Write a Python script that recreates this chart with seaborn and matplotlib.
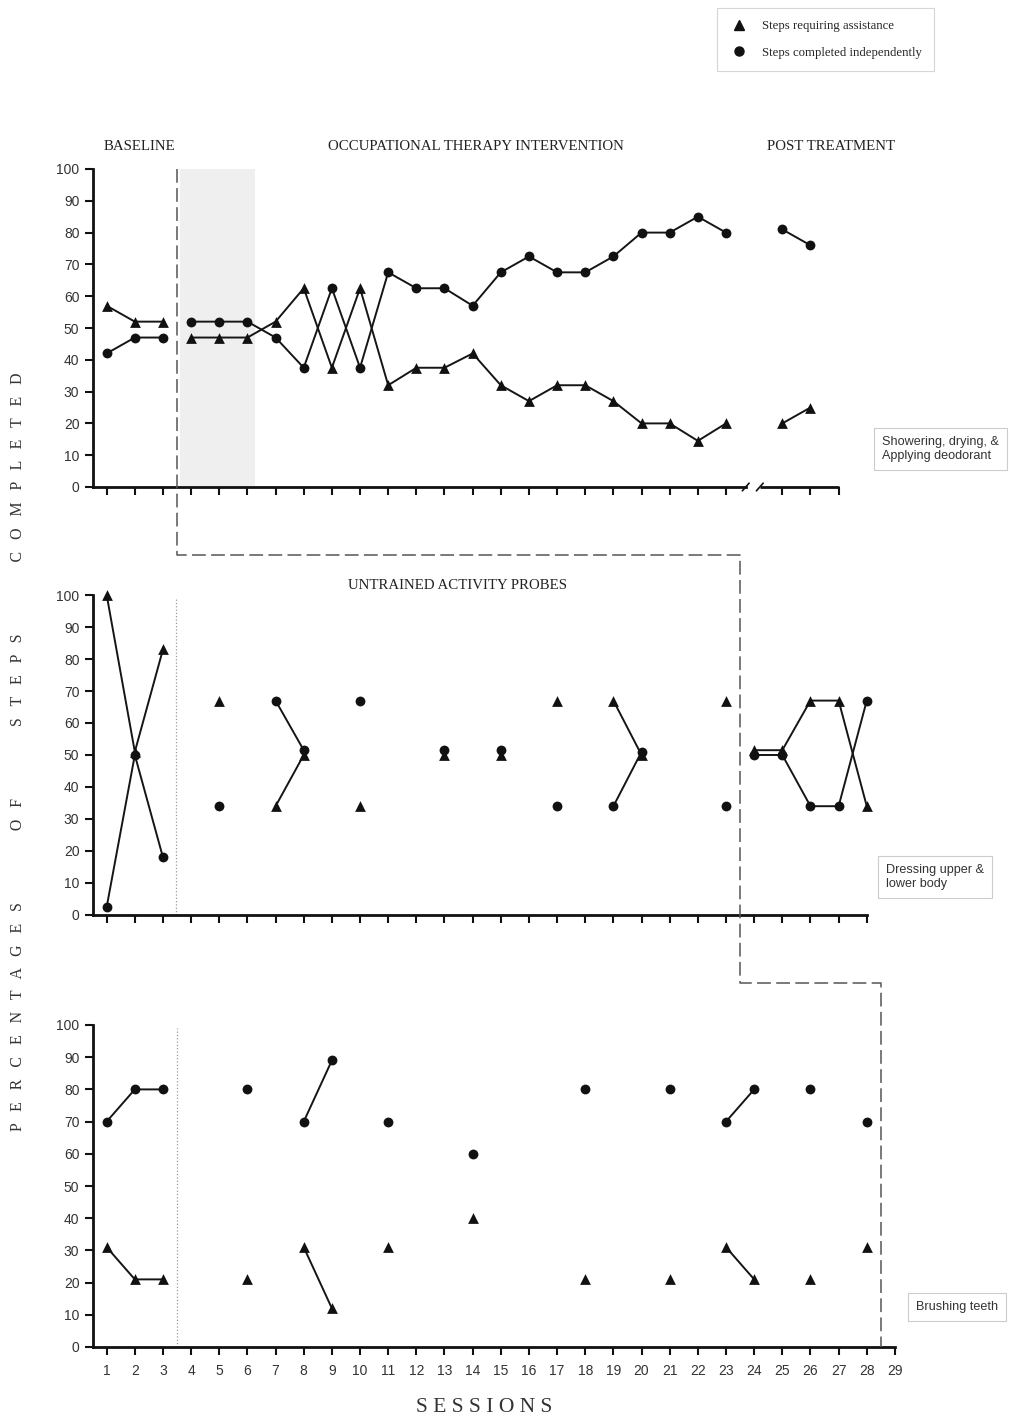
import numpy as np
import pandas as pd
import matplotlib
matplotlib.use("Agg")
import matplotlib.pyplot as plt
from matplotlib.lines import Line2D
import seaborn as sns

# ---- data ----
top_sessions = [1, 2, 3, 4, 5, 6, 7, 8, 9, 10, 11, 12, 13, 14, 15, 16, 17, 18, 19, 20, 21, 22, 23, 25, 26]
top_assist = [57, 52, 52, 47, 47, 47, 52, 62.5, 37.5, 62.5, 32, 37.5, 37.5, 42, 32, 27, 32, 32, 27, 20, 20, 14.5, 20, 20, 25]
top_indep = [42, 47, 47, 52, 52, 52, 47, 37.5, 62.5, 37.5, 67.5, 62.5, 62.5, 57, 67.5, 72.5, 67.5, 67.5, 72.5, 80, 80, 85, 80, 81, 76]

mid_sessions = [1, 2, 3, 5, 7, 8, 10, 13, 15, 17, 19, 20, 23, 24, 25, 26, 27, 28]
mid_assist = [100, 51, 83, 67, 34, 50, 34, 50, 50, 67, 67, 50, 67, 51.5, 51.5, 67, 67, 34]
mid_indep = [2.5, 50, 18, 34, 67, 51.5, 67, 51.5, 51.5, 34, 34, 51, 34, 50, 50, 34, 34, 67]

bot_sessions = [1, 2, 3, 6, 8, 9, 11, 14, 18, 21, 23, 24, 26, 28]
bot_assist = [31, 21, 21, 21, 31, 12, 31, 40, 21, 21, 31, 21, 21, 31]
bot_indep = [70, 80, 80, 80, 70, 89, 70, 60, 80, 80, 70, 80, 80, 70]

# phase change positions (lines are not joined across them)
top_breaks = [3.5]
mid_breaks = [3.5, 23.5]
bot_breaks = [3.5, 28.5]

panel_names = ["Showering, drying, &\nApplying deodorant", "Dressing upper &\nlower body", "Brushing teeth"]
y_ticks = list(range(0, 101, 10))

sns.set_style("ticks")
plt.rcParams['font.family'] = ['Liberation Sans', 'DejaVu Sans']
SERIF = ['Liberation Serif', 'DejaVu Serif']

W, H = 1012, 1421
fig = plt.figure(figsize=(W / 100, H / 100), dpi=100)
fig.patch.set_facecolor('white')

left = 92.6 / W
width = 816.4 / W
ax_top = fig.add_axes([left, 1 - 487 / H, width, 318 / H])
ax_mid = fig.add_axes([left, 1 - 915 / H, width, 320 / H])
ax_bot = fig.add_axes([left, 1 - 1347 / H, width, 322 / H])


def draw_series(ax, sess, vals, breaks, marker, size):
    df = pd.DataFrame({'session': sess, 'value': vals})
    df['phase'] = np.searchsorted(breaks, df['session'])
    df['run'] = ((df['session'].diff() != 1) | (df['phase'].diff() != 0)).cumsum()
    for _, g in df.groupby('run'):
        if len(g) > 1:
            sns.lineplot(data=g, x='session', y='value', ax=ax, color='#151515',
                         linewidth=1.4, legend=False, errorbar=None)
    sns.scatterplot(data=df, x='session', y='value', ax=ax, marker=marker, s=size,
                    color='#111111', linewidth=0, zorder=4, clip_on=False, legend=False)


def style_axis(ax, xticks, xend, labels=False):
    ax.set_xlim(0.5, 29.5)
    ax.set_ylim(0, 100)
    sns.despine(ax=ax)
    for side in ['left', 'bottom']:
        ax.spines[side].set_linewidth(2)
        ax.spines[side].set_color('#111111')
    ax.spines['bottom'].set_bounds(0.5, xend)
    ax.set_xticks(xticks)
    ax.set_yticks(y_ticks)
    ax.tick_params(axis='both', direction='out', length=6, width=1.5, color='#111111',
                   labelsize=10, labelcolor='#333333')
    if not labels:
        ax.set_xticklabels([])
    ax.set_xlabel('')
    ax.set_ylabel('')
    ax.patch.set_alpha(0)


# ---- top panel ----
ax_top.axvspan(3.6, 6.27, ymax=1, color='#efefef', zorder=0, lw=0)
draw_series(ax_top, top_sessions, top_assist, top_breaks, '^', 60)
draw_series(ax_top, top_sessions, top_indep, top_breaks, 'o', 50)
style_axis(ax_top, list(range(1, 24)) + [25, 26, 27], 23.7)
ax_top.plot([24.2, 27], [0, 0], color='#111111', lw=2, clip_on=False, solid_capstyle='butt')
for bx in (23.7, 24.2):
    ax_top.plot([bx - 0.12, bx + 0.12], [-1.2, 1.2], color='#111111', lw=1.2, clip_on=False)
title_kw = dict(family=SERIF, fontsize=10.7, ha='center', va='center', color='#222')
ax_top.text(2.18, 107, 'BASELINE', **title_kw)
ax_top.text(14.12, 107, 'OCCUPATIONAL THERAPY INTERVENTION', **title_kw)
ax_top.text(26.73, 107, 'POST TREATMENT', **title_kw)

# ---- middle panel ----
ax_mid.axvline(3.45, ymin=0, ymax=0.99, color='#999999', lw=0.9, ls=':')
draw_series(ax_mid, mid_sessions, mid_assist, mid_breaks, '^', 60)
draw_series(ax_mid, mid_sessions, mid_indep, mid_breaks, 'o', 50)
style_axis(ax_mid, list(range(1, 29)), 28)
ax_mid.text(13.45, 103, 'UNTRAINED ACTIVITY PROBES', **title_kw)

# ---- bottom panel ----
ax_bot.axvline(3.5, ymin=0, ymax=0.99, color='#999999', lw=0.9, ls=':')
draw_series(ax_bot, bot_sessions, bot_assist, bot_breaks, '^', 60)
draw_series(ax_bot, bot_sessions, bot_indep, bot_breaks, 'o', 50)
style_axis(ax_bot, list(range(1, 30)), 29, labels=True)
ax_bot.tick_params(axis='x', pad=6)

# ---- phase change dashed line across panels ----
inv = fig.transFigure.inverted()


def fxy(ax, x, y):
    return inv.transform(ax.transData.transform((x, y)))


p0 = fxy(ax_top, 3.5, 100)
x235 = fxy(ax_mid, 23.5, 0)[0]
x285 = fxy(ax_bot, 28.5, 0)[0]
p5 = fxy(ax_bot, 28.5, 0)
g1 = 1 - 555 / H
g2 = 1 - 983 / H
xs = [p0[0], p0[0], x235, x235, x285, x285]
ys = [p0[1], g1, g1, g2, g2, p5[1]]
fig.add_artist(Line2D(xs, ys, transform=fig.transFigure, color='#555555', lw=1.1,
                      ls=(0, (9, 3.5))))

# ---- panel name boxes ----
box = dict(boxstyle='square,pad=0.65', facecolor='white', edgecolor='#cccccc', lw=0.8)
fig.text(882 / W, 1 - 449 / H, panel_names[0], fontsize=9.1, color='#333', va='center', ha='left',
         bbox=box, linespacing=1.25)
fig.text(886 / W, 1 - 877 / H, panel_names[1], fontsize=9.1, color='#333', va='center', ha='left',
         bbox=box, linespacing=1.25)
fig.text(916 / W, 1 - 1307 / H, panel_names[2], fontsize=9.1, color='#333', va='center', ha='left',
         bbox=box)

# ---- axis titles ----
ylab = '      '.join(' '.join(w) for w in ['PERCENTAGES', 'OF', 'STEPS', 'COMPLETED'])
ylab = ylab.replace(' ', '   ')
fig.text(18 / W, 1 - 752 / H, ylab, family=SERIF, fontsize=11.4, rotation=90,
         ha='center', va='center', color='#333')
fig.text(484 / W, 1 - 1407 / H, ' '.join('SESSIONS'), family=SERIF, fontsize=15.5,
         ha='center', va='center', color='#333')

# ---- legend ----
handles = [Line2D([], [], marker='^', color='#111', ls='none', markersize=7),
           Line2D([], [], marker='o', color='#111', ls='none', markersize=6.5)]
leg = fig.legend(handles, ['Steps requiring assistance', 'Steps completed independently'],
                 loc='upper left', bbox_to_anchor=(717 / W, 1 - 8 / H),
                 prop={'family': SERIF, 'size': 9.2}, frameon=True, fancybox=False,
                 edgecolor='#cccccc', labelspacing=1.15, borderpad=0.95, handletextpad=1.0,
                 handlelength=1.6, borderaxespad=0)
leg.get_frame().set_linewidth(0.8)

fig.savefig('out.png', dpi=100, facecolor='white')
